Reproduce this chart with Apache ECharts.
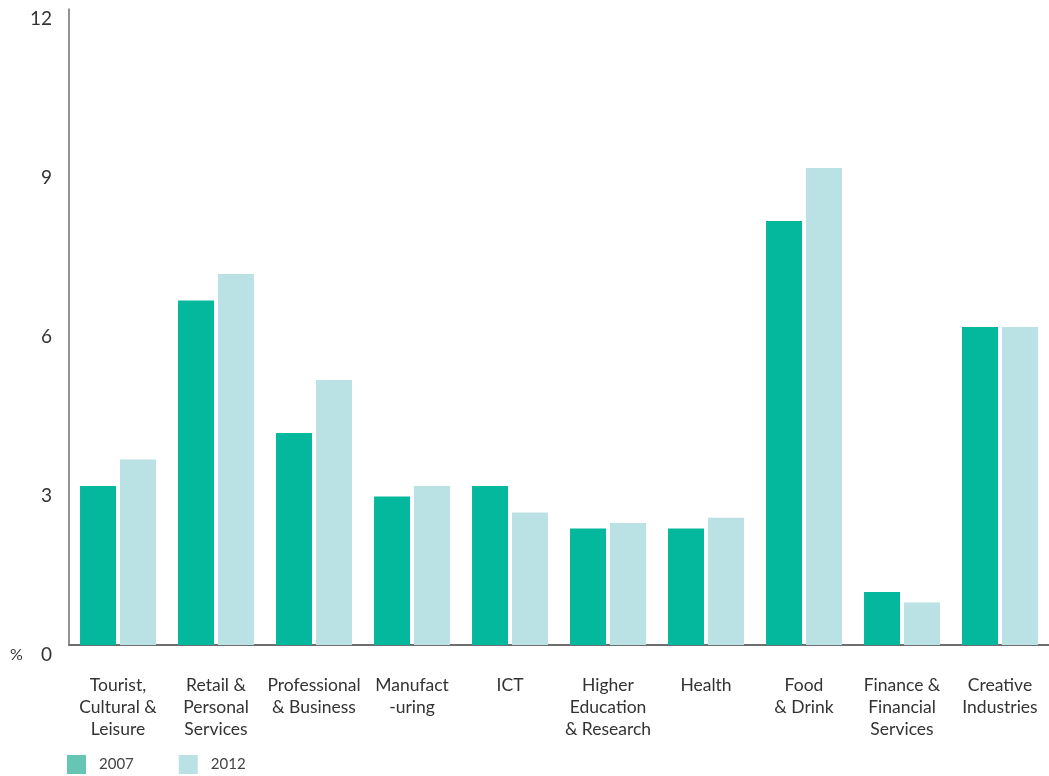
<!DOCTYPE html>
<html>
<head>
<meta charset="utf-8">
<script src="https://cdn.jsdelivr.net/npm/echarts@6/dist/echarts.min.js"></script>
<style>
  html, body { margin: 0; padding: 0; background: #fff; }
  #chart { width: 1049px; height: 776px; }
</style>
</head>
<body>
<div id="chart"></div>
<script>
// Share of employment by sector (%)
const categories = [
  'Tourist,\nCultural &\nLeisure',
  'Retail &\nPersonal\nServices',
  'Professional\n& Business',
  'Manufact\n-uring',
  'ICT',
  'Higher\nEducation\n& Research',
  'Health',
  'Food\n& Drink',
  'Finance &\nFinancial\nServices',
  'Creative\nIndustries'
];
const values2007 = [3.0, 6.5, 4.0, 2.8, 3.0, 2.2, 2.2, 8.0, 1.0, 6.0];
const values2012 = [3.5, 7.0, 5.0, 3.0, 2.5, 2.3, 2.4, 9.0, 0.8, 6.0];
const yTicks = { min: 0, max: 12, interval: 3 };

const FONT = 'Lato, "Open Sans", sans-serif';
const TEXT = '#333333';
const AXIS = '#6e6e6e';

const chart = echarts.init(document.getElementById('chart'), null, { renderer: 'canvas' });
chart.setOption({
  animation: false,
  textStyle: { fontFamily: FONT },
  grid: { left: 69, right: -2, top: 9, bottom: 131, containLabel: false },
  legend: {
    left: 62, top: 750,
    itemWidth: 19, itemHeight: 19, itemGap: 45,
    icon: 'rect',
    textStyle: { fontFamily: FONT, fontSize: 15, color: '#444', padding: [0, 0, 0, 8] },
    data: [
      { name: '2007', itemStyle: { color: '#66c6b3' } },
      { name: '2012', itemStyle: { color: '#bae2e4' } }
    ]
  },
  xAxis: {
    type: 'category',
    data: categories,
    axisTick: { show: false },
    axisLine: { lineStyle: { color: AXIS, width: 2 } },
    axisLabel: {
      interval: 0, margin: 29,
      fontFamily: FONT, fontSize: 17.5, color: TEXT,
      lineHeight: 22, align: 'center'
    }
  },
  yAxis: {
    type: 'value',
    min: yTicks.min, max: yTicks.max, interval: yTicks.interval,
    splitLine: { show: false },
    axisTick: { show: false },
    axisLine: { show: true, lineStyle: { color: AXIS, width: 1.5 } },
    axisLabel: {
      fontFamily: FONT, fontSize: 19, color: TEXT,
      margin: 17, verticalAlign: 'top'
    }
  },
  graphic: [
    { type: 'text', left: 10, top: 647,
      style: { text: '%', fontFamily: FONT, fontSize: 16, fill: TEXT } }
  ],
  series: [
    { name: '2007', type: 'bar', data: values2007, barWidth: 36, barGap: '11%',
      itemStyle: { color: '#04b89d' } },
    { name: '2012', type: 'bar', data: values2012, barWidth: 36,
      itemStyle: { color: '#bae2e4' } }
  ]
});
</script>
</body>
</html>
